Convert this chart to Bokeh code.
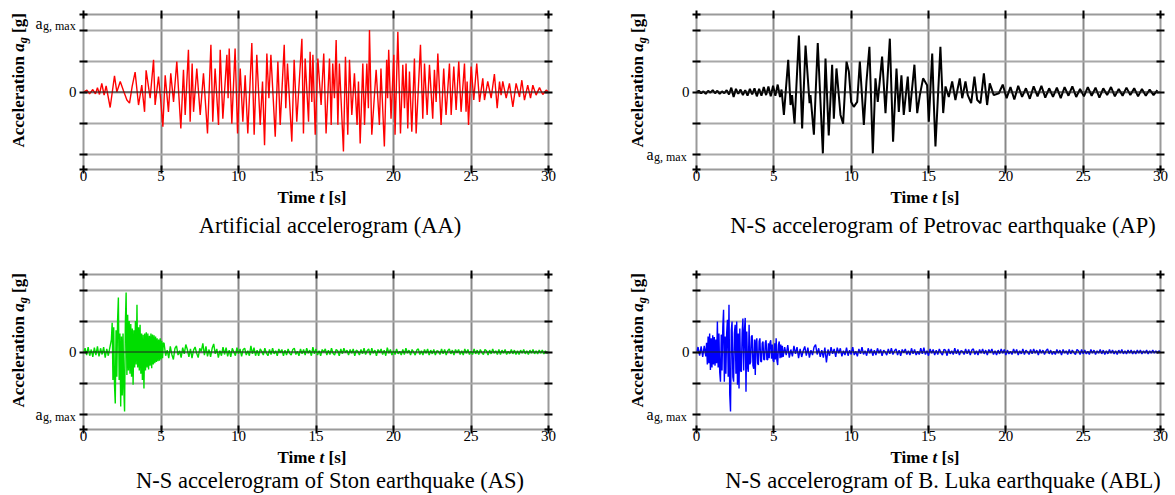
import numpy as np
from bokeh.plotting import figure
from bokeh.models import Range1d, FixedTicker, LinearAxis, Label, Span
from bokeh.layouts import column, row
from bokeh.embed import file_html
from bokeh.resources import INLINE

SERIF = "Liberation Serif"

# ---------------- data (acceleration in % of a_g,max, time in s) ----------------
x_ticks = [0, 5, 10, 15, 20, 25, 30]
y_ticks = [-125, -100, -50, 0, 50, 100, 125]
y_grid = [-100, -50, 0, 50, 100]

captions = ["Artificial accelerogram (AA)",
            "N-S accelerogram of Petrovac earthquake (AP)",
            "N-S accelerogram of Ston earthquake (AS)",
            "N-S accelerogram of B. Luka earthquake (ABL)"]

# Artificial accelerogram (AA): peaks
aa_t = [
    0, 0.22, 0.39, 0.6, 0.77, 0.9, 1.03, 1.18, 1.33, 1.46,
    1.72, 2.0, 2.15, 2.37, 2.58, 2.8, 2.97, 3.14, 3.33, 3.55,
    3.76, 3.94, 4.04, 4.3, 4.52, 4.62, 4.84, 4.99, 5.12, 5.27,
    5.48, 5.63, 5.81, 6.02, 6.28, 6.45, 6.56, 6.77, 6.88, 7.01,
    7.1, 7.31, 7.53, 7.74, 8.0, 8.22, 8.34, 8.49, 8.71, 8.82,
    8.99, 9.25, 9.33, 9.4, 9.57, 9.78, 9.94, 10.11, 10.28, 10.43,
    10.6, 10.86, 11.01, 11.18, 11.4, 11.55, 11.68, 11.83, 11.96, 12.09,
    12.37, 12.54, 12.69, 12.95, 13.05, 13.16, 13.44, 13.59, 13.76, 14.09,
    14.19, 14.3, 14.52, 14.62, 14.73, 14.8, 14.95, 15.12, 15.33, 15.5,
    15.65, 15.87, 15.98, 16.08, 16.19, 16.3, 16.41, 16.51, 16.77, 16.9,
    17.05, 17.16, 17.31, 17.48, 17.65, 17.74, 17.85, 18.02, 18.13, 18.28,
    18.38, 18.45, 18.6, 18.88, 19.09, 19.19, 19.41, 19.56, 19.62, 19.69,
    19.84, 20.02, 20.1, 20.28, 20.45, 20.6, 20.71, 20.81, 20.92, 21.03,
    21.18, 21.35, 21.46, 21.74, 21.89, 22.0, 22.17, 22.32, 22.53, 22.64,
    22.75, 22.86, 23.07, 23.24, 23.39, 23.61, 23.72, 23.89, 24.04, 24.21,
    24.36, 24.58, 24.68, 24.75, 24.84, 25.01, 25.18, 25.37, 25.55, 25.76,
    25.87, 26.08, 26.3, 26.51, 26.69, 26.84, 26.94, 27.05, 27.27, 27.48,
    27.7, 27.91, 28.13, 28.28, 28.45, 28.66, 28.84, 28.99, 29.2, 29.42,
    29.63, 29.85, 30]
aa_a = [
    0, 3, -3, 4, -3, 7, -4, 14, -5, 10,
    -25, 26, 0, 17, 2, -13, -18, 9, 32, -21,
    11, -32, 35, -10, 52, -21, 25, -16, -56, 27,
    -32, 30, -16, 49, -59, 36, -37, 68, -48, 46,
    -32, 38, -37, 30, -67, 76, -48, 38, -53, 68,
    -43, 60, -10, 70, -51, 70, -67, 38, -48, 27,
    -67, 79, -69, 60, -53, 17, -86, 62, -10, 60,
    -72, 49, -53, 76, -26, 46, -80, 52, -48, 86,
    -67, 54, -48, 65, -16, 60, -69, 54, -21, 62,
    -67, 54, -53, 46, -10, 84, -53, 46, -96, 57,
    -69, 52, -37, 30, -53, 17, -83, 46, -53, 46,
    -26, 100, -69, 36, -53, 38, -88, 52, -10, 68,
    -43, 60, -69, 97, -67, 44, -26, 46, -59, 33,
    -64, 54, -67, 76, -43, 46, -37, 44, -43, 36,
    -16, 62, -53, 38, -37, 46, -37, 41, -29, 49,
    -32, 46, -32, 17, -53, 41, -13, 46, -16, 22,
    -13, 17, -10, 29, -26, 17, -5, 17, -10, 14,
    -24, 14, -8, 19, -13, 11, -10, 11, -5, 7,
    -4, 3, 0]

# Petrovac (AP): pre-event samples every 0.15 s from 0 s
ap_pre_a = [0, 2, -2, 1, -3, 2, -1, 3, -2, 2,
            -3, 1, -2, 3, -4, 7, -8, 5, -3, 4,
            -5, 3, -6, 5, -4, 6, -7, 5, -6, 8,
            -5, 9, -7, 10, -6, 12]
# strong-motion peaks
ap_main_t = [5.4, 5.5, 5.65, 5.93, 6.08, 6.18, 6.34, 6.62, 6.83, 7.05,
             7.31, 7.37, 7.59, 7.84, 8.17, 8.34, 8.55, 8.77, 8.88, 9.05,
             9.31, 9.48, 9.7, 9.85, 10.0, 10.17, 10.39, 10.56, 10.82, 10.99,
             11.18, 11.4, 11.57, 11.72, 12.0, 12.22, 12.5, 12.71, 12.93, 13.08,
             13.25, 13.4, 13.66, 13.79, 14.09, 14.27, 14.44, 14.65, 14.91, 15.02,
             15.24, 15.34, 15.45, 15.77, 15.95, 16.1, 16.31, 16.53, 16.74, 17.02,
             17.18, 17.39, 17.54, 17.76, 17.97, 18.15, 18.36, 18.58, 18.79, 18.96,
             19.22, 19.55]
ap_main_a = [-8, 4, -37, 52, -21, -5, -51, 91, -59, 75,
             -18, -5, -69, 79, -99, 54, -70, 44, -43, 38,
             -37, -51, 49, 33, -16, -24, -16, 49, -53, 17,
             73, -99, 22, -16, 57, -34, 86, -80, 38, -32,
             27, -37, 25, -32, 44, -34, -5, 22, 11, -48,
             62, -16, -88, 73, -34, 9, -8, 17, -13, 22,
             -10, 17, -5, -18, 25, -13, -18, 30, -21, 14,
             -5, -2]
# coda, samples every 0.25 s from 19.8 s
ap_tail_a = [12, -10, 8, -12, 10, -8, 6, -11, 9, -7,
             10, -9, 6, -8, 7, -10, 8, -6, 9, -8,
             5, -7, 8, -6, 7, -9, 6, -5, 8, -7,
             5, -6, 7, -5, 6, -7, 5, -6, 4, -5, 3]

# Ston (AS): pre-event every 0.1 s from 0 s, burst every 0.05 s from 1.8 s, coda every 0.1 s from 5.2 s
as_pre_a = [0, 6, -5, 8, -6, 4, -8, 7, -5, 9, -7, 6, -4, 8, -9, 5, -6, 7]
as_burst_a = [20, 47, -45, 40, -53, -83, 35, -40, 52, 88,
              -45, 30, -88, 25, -70, 30, -60, -96, 45, 96,
              -37, 60, -30, 50, -35, 45, -40, 38, -53, 35,
              -25, 50, -20, 76, -25, 40, -30, 44, -35, 30,
              -45, 28, -59, 30, -30, 32, -25, 30, -28, 26,
              -22, 30, -26, 28, -20, 27, -18, 25, -16, 22,
              -15, 20, -14, 22, -12, 18, -10, 15]
as_tail_a = [14, -6, 3, -10, 9, -4, -12, 6, 10, -5,
             2, -9, 7, -3, 12, 4, -8, 5, -10, 3,
             8, -2, -9, 6, 1, 14, -5, 9, -7, 4,
             -8, 6, 13, -3, 5, -9, 2, -6, 8, -4,
             7, -7, 3, -8, 6, 0, -6, 7, -3, 5,
             -7, 4, 6, -5, 2, -6, 10, -3, 7, -6,
             3, -6, 5, 1, -5, 6, -2, -6, 4, -4,
             6, -3, 2, -6, 5, -1, 4, -6, 3, -5,
             5, -2, -5, 4, 6, -4, 1, -6, 5, -3,
             4, -5, 6, -2, 3, -6, 8, -3, 5, -5,
             2, -6, 4, 0, 5, -5, 3, -4, 6, -2,
             -5, 4, 2, -6, 5, -3, 6, -1, 3, -5,
             4, -2, 5, -6, 3, 1, -5, 4, -3, 6,
             -4, 2, 5, -5, 6, -2, 3, -6, 4, -1,
             5, -4, 3, -6, 7, -2, 4, -5, 2, -4,
             5, -3, 1, -5, 4, -4, 6, -2, 3, -5,
             4, 0, -5, 3, 5, -4, 2, -5, 4, -2,
             5, -5, 3, -3, 4, -5, 2, 1, -4, 5,
             -3, 4, -5, 2, 5, -3, 3, -5, 4, -1,
             4, -4, 2, -5, 5, -2, 4, -4, 1, -4,
             5, -3, 3, -4, 4, -1, -4, 4, 2, -5,
             3, -3, 5, -2, 2, -4, 4, -4, 3, -2,
             4, -4, 1, -3, 4, -3, 3, -4, 2, -4,
             3, -2, 4, -3, 2, -4, 3, -2, 4, -3,
             2, -3, 3, -2, 3, -3, 2, -2, 0]

# Banja Luka (ABL): pre-event every 0.1 s from 0 s, burst every 0.05 s from 0.65 s, coda every 0.1 s from 5.7 s
abl_pre_a = [0, 8, -6, 9, -8, 10, -7]
abl_burst_a = [15, -20, 25, -18, 30, -29, 22, -25, 27, -20,
               24, -22, 20, -18, 49, -25, 30, -32, -48, 28,
               -30, 40, 68, -48, 25, -35, 30, 52, -40, 76,
               -69, -96, 35, 49, -40, -48, 30, 44, -35, 49,
               -53, 30, -59, 38, -30, -32, 30, 54, -30, 35,
               55, -64, 33, -25, -32, 44, -20, -16, 25, 27,
               -22, -27, 20, -37, 18, 22, -18, -21, 17, 22,
               -15, -16, 14, 17, -12, -13, 15, 19, -12, -13,
               14, -10, 15, 19, -11, 12, -13, -16, 14, -12,
               22, -14, -21, 12, 17, -10, 12, -9, 10, -8]
abl_tail_a = [8, -5, 11, -9, 4, -7, 10, -3, 8, -10,
              5, -8, 2, 9, -6, 7, -9, 3, -5, 8,
              12, -4, 6, -8, 3, -9, 7, -17, 4, -6,
              8, -3, 5, -8, 7, -2, 6, -7, 2, -5,
              7, -6, 3, -4, 8, -5, 1, -7, 5, -3,
              8, -4, 2, -6, 6, -2, 5, -6, 3, -5,
              6, -2, 4, -6, 3, 0, -5, 5, -3, 6,
              -4, 2, 5, -5, 3, -6, 4, -1, 5, -4,
              2, -5, 6, -3, 4, -5, 1, -4, 6, -3,
              7, -4, 2, -6, 5, -2, 4, -5, 3, -4,
              5, -1, -5, 4, 3, -6, 5, -3, 2, -4,
              6, -3, 4, -5, 2, 1, -4, 5, -3, 4,
              -5, 3, 5, -4, 2, -5, 4, -2, 5, -3,
              3, -5, 4, -1, 5, -4, 2, -5, 3, -3,
              5, -2, 4, -5, 3, -3, 1, -4, 5, -2,
              4, -5, 2, -3, 5, -4, 3, 0, -4, 4,
              -3, 5, -2, 3, -5, 4, -2, 3, -4, 2,
              5, -3, 3, -4, 1, -4, 4, -2, 3, -5,
              4, -2, 2, -4, 4, -3, 3, -1, -4, 4,
              2, -4, 4, -3, 3, -3, 1, -4, 4, -2,
              3, -4, 2, -2, 4, -3, 3, -4, 2, -3,
              4, -2, 3, -3, 2, -4, 3, -2, 4, -3,
              2, -3, 3, -2, 3, -3, 2, -3, 3, -2,
              3, -3, 2, -2, 3, -3, 2, -2, 3, -2,
              2, -2, 2, 0]


def sampled(start, step, values):
    return list(np.round(start + step * np.arange(len(values)), 3))


assert len(aa_t) == len(aa_a) and len(ap_main_t) == len(ap_main_a)

ap_t = sampled(0, 0.15, ap_pre_a) + ap_main_t + sampled(19.8, 0.25, ap_tail_a)
ap_a = ap_pre_a + ap_main_a + ap_tail_a
as_t = sampled(0, 0.1, as_pre_a) + sampled(1.8, 0.05, as_burst_a) + sampled(5.2, 0.1, as_tail_a)
as_a = as_pre_a + as_burst_a + as_tail_a
abl_t = sampled(0, 0.1, abl_pre_a) + sampled(0.65, 0.05, abl_burst_a) + sampled(5.7, 0.1, abl_tail_a)
abl_a = abl_pre_a + abl_burst_a + abl_tail_a

# ---------------- layout geometry ----------------
TOP, FH, BOT = 14, 155, 18          # plot: border above, frame, border below
PH = TOP + FH + BOT                 # plot figure height
ROW_H = [260, 235]
LW = [77, 122]                      # width of the y-title strips
PL, PR = 6, [20, 10]                # plot borders left / right
FW = [465, 464]                     # frame widths
FS = 17                             # axis title font size
MID = 0.3375                        # baseline -> text middle (em)


def tlab(f, text, x, y, size, style="normal", align="left", angle=0):
    # (x, y): canvas position of the text baseline start
    if angle == 0:
        y = y - MID * size
    else:
        x = x - MID * size
    f.add_layout(Label(x=x, y=y, x_units="canvas", y_units="canvas",
                       text=text, text_font=SERIF, text_font_size=f"{size}px",
                       text_font_style=style, text_align=align,
                       text_baseline="middle", angle=angle, angle_units="deg",
                       text_color="black"))


def text_fig(w, h):
    f = figure(width=w, height=h, x_range=Range1d(0, 1), y_range=Range1d(0, 1),
               x_axis_type=None, y_axis_type=None, output_backend="svg",
               toolbar_location=None, min_border=0)
    f.min_border_left = f.min_border_right = 0
    f.min_border_top = f.min_border_bottom = 0
    f.outline_line_color = None
    f.background_fill_color = "white"
    f.border_fill_color = "white"
    return f


def y_strip(w, h, bx, amax_x, amax_base):
    f = text_fig(w, h)
    y0 = 147
    tlab(f, "Acceleration", bx, y0, FS, "bold", angle=90)
    tlab(f, "a", bx, y0 - 5.637 * FS, FS, "bold italic", angle=90)
    tlab(f, "g", bx + 3, y0 - 6.137 * FS, 12, "bold italic", angle=90)
    tlab(f, "[g]", bx, y0 - 6.387 * FS - 6, FS, "bold", angle=90)
    tlab(f, "a", amax_x, amax_base, 16)
    tlab(f, "g, max", amax_x + 7.5, amax_base + 2, 12)
    f.add_layout(Label(x=w - 1, y=TOP + FH / 2, x_units="canvas",
                       y_units="canvas", text="0", text_font=SERIF,
                       text_font_size="15px", text_align="right",
                       text_baseline="middle", text_color="black"))
    return f


def x_strip(w, h, caption, time_base, cap_base):
    f = text_fig(w, h)
    x0 = 200
    tlab(f, "Time", x0, time_base, FS, "bold")
    tlab(f, "t", x0 + 2.472 * FS, time_base, FS, "bold italic")
    tlab(f, "[s]", x0 + 3.0 * FS, time_base, FS, "bold")
    tlab(f, caption, PL + 246.5, cap_base, 22.5, align="center")
    return f


def style_axis(ax, labels):
    ax.axis_line_color = None
    ax.major_tick_in = 4
    ax.major_tick_out = 4
    ax.major_tick_line_width = 2
    ax.major_tick_line_color = "black"
    ax.minor_tick_line_color = None
    if labels:
        ax.major_label_text_font = SERIF
        ax.major_label_text_font_size = "15px"
        ax.major_label_text_color = "black"
        ax.major_label_standoff = -3
    else:
        ax.major_label_text_font_size = "0px"
        ax.major_label_text_color = None
        ax.major_label_standoff = 0


def plot_fig(t, a, color, lw, col):
    fw, br = FW[col], PR[col]
    p = figure(width=PL + fw + br, height=PH,
               x_range=Range1d(0, 30), y_range=Range1d(-125, 125),
               output_backend="svg", toolbar_location=None,
               min_border_left=PL, min_border_right=br,
               min_border_top=TOP, min_border_bottom=BOT)
    p.background_fill_color = "white"
    p.border_fill_color = "white"
    p.outline_line_color = "#9a9a9a"
    p.outline_line_width = 2

    p.xaxis.ticker = FixedTicker(ticks=x_ticks)
    p.yaxis.ticker = FixedTicker(ticks=y_ticks)
    style_axis(p.xaxis[0], True)
    style_axis(p.yaxis[0], False)
    top = LinearAxis(ticker=FixedTicker(ticks=x_ticks))
    right = LinearAxis(ticker=FixedTicker(ticks=y_ticks))
    style_axis(top, False)
    style_axis(right, False)
    p.add_layout(top, "above")
    p.add_layout(right, "right")

    p.xgrid.ticker = FixedTicker(ticks=x_ticks)
    p.ygrid.ticker = FixedTicker(ticks=y_grid)
    p.xgrid.grid_line_color = "#888888"
    p.xgrid.grid_line_width = 2
    p.ygrid.grid_line_color = "#a8a8a8"
    p.ygrid.grid_line_width = 2

    p.line(t, a, line_color=color, line_width=lw)
    p.add_layout(Span(location=0, dimension="width", line_color="#202020",
                      line_width=1.2))
    return p


def block(t, a, color, lw, caption, rowi, col, bx, amax_x, amax_base,
          time_base, cap_base):
    h = ROW_H[rowi]
    ys = y_strip(LW[col], h, bx, amax_x, amax_base)
    p = plot_fig(t, a, color, lw, col)
    xs = x_strip(PL + FW[col] + PR[col], h - PH, caption, time_base, cap_base)
    return [ys, column(p, xs)]


b1 = block(aa_t, aa_a, "#ff0000", 1.4, captions[0], 0, 0, 23.3, 35, 28, 15.5, 46)
b2 = block(ap_t, ap_a, "#000000", 2.0, captions[1], 0, 1, 74.5, 78, 159, 15.5, 46)
b3 = block(as_t, as_a, "#00dd00", 1.4, captions[2], 1, 0, 24, 35, 159, 15.5, 41)
b4 = block(abl_t, abl_a, "#0000ff", 1.4, captions[3], 1, 1, 74.5, 78, 159, 15.5, 41)

layout = column(row(*b1, *b2), row(*b3, *b4))
open("out.html", "w").write(file_html(layout, INLINE))
